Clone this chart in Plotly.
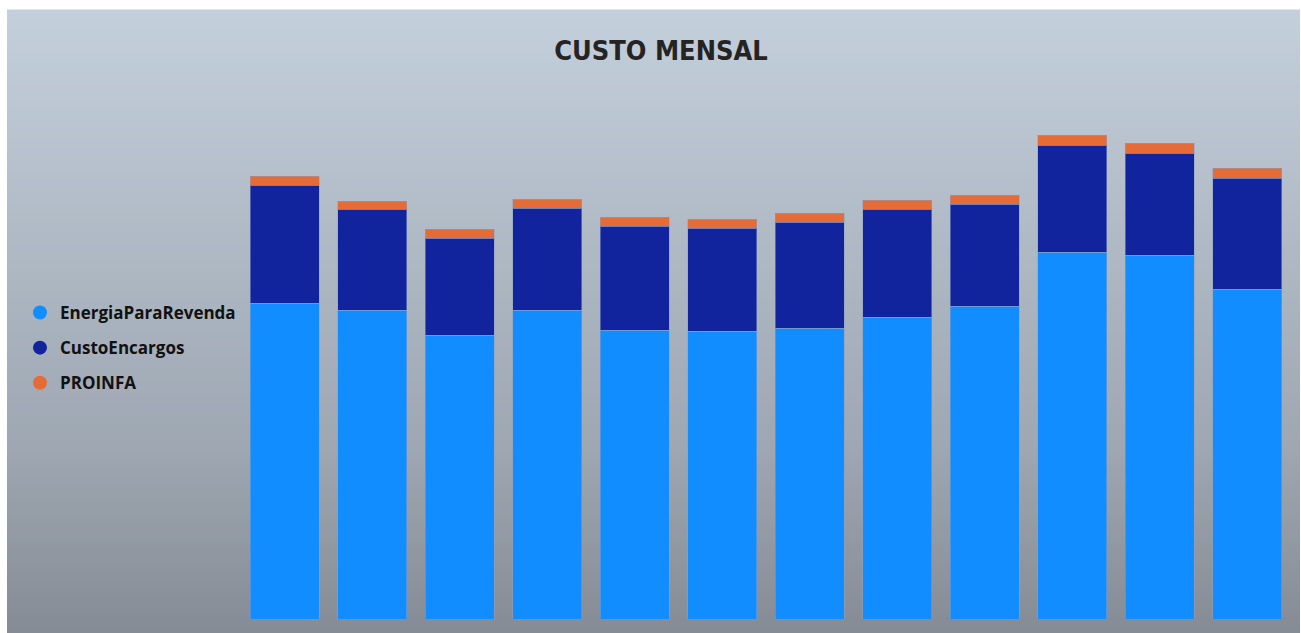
import plotly.graph_objects as go

months = ["Jan", "Fev", "Mar", "Abr", "Mai", "Jun", "Jul", "Ago", "Set", "Out", "Nov", "Dez"]
energia = [316, 309, 284, 309, 289, 288, 291, 302, 313, 367, 364, 330]
encargos = [118, 101, 97, 102, 104, 103, 106, 108, 102, 107, 102, 111]
proinfa = [9, 8, 9, 9, 9, 9, 9, 9, 9, 10, 10, 10]

series = [
    ("EnergiaParaRevenda", energia, "#118DFF"),
    ("CustoEncargos", encargos, "#12239E"),
    ("PROINFA", proinfa, "#E66C37"),
]

W, H = 1301, 633
L, R, T, B = 241, 10, 100, 14
pw, ph = W - L - R, H - T - B

fig = go.Figure()
for name, vals, col in series:
    fig.add_trace(go.Bar(x=months, y=vals, name=name,
                         marker=dict(color=col, line=dict(width=1, color="rgba(140,160,200,0.5)")),
                         showlegend=False))
for name, vals, col in series:
    fig.add_trace(go.Scatter(x=[None], y=[None], mode="markers", name=name, legendgroup=name,
                             marker=dict(symbol="circle", size=14, color=col)))

def lerp(a, b, t):
    return tuple(a[i] + (b[i] - a[i]) * t for i in range(3))

stops = [(10, (196, 208, 220)), (450, (158, 167, 178)), (633, (134, 140, 149))]
shapes = []
n = 120
y_top, y_bot = 10, 633
for k in range(n):
    p0 = y_top + (y_bot - y_top) * k / n
    p1 = y_top + (y_bot - y_top) * (k + 1) / n
    pm = (p0 + p1) / 2
    for j in range(len(stops) - 1):
        if stops[j][0] <= pm <= stops[j + 1][0]:
            t = (pm - stops[j][0]) / (stops[j + 1][0] - stops[j][0])
            c = lerp(stops[j][1], stops[j + 1][1], t)
            break
    shapes.append(dict(type="rect", xref="paper", yref="paper", layer="below",
                       x0=(7 - L) / pw, x1=(1300 - L) / pw,
                       y0=(H - B - p1 - 0.5) / ph, y1=(H - B - p0 + 0.5) / ph,
                       fillcolor="rgb(%d,%d,%d)" % c, line=dict(width=0)))

fig.update_layout(
    width=W, height=H,
    margin=dict(l=L, r=R, t=T, b=B, autoexpand=False),
    barmode="stack", bargap=0.21,
    paper_bgcolor="white", plot_bgcolor="rgba(0,0,0,0)",
    shapes=shapes,
    title=dict(text="<b>CUSTO MENSAL</b>", x=661 / W, xref="container", xanchor="center",
               y=1 - 51 / H, yref="container", yanchor="middle",
               font=dict(family="DejaVu Sans Condensed", size=27, color="#252423")),
    xaxis=dict(visible=False),
    yaxis=dict(visible=False, range=[0, ph]),
    legend=dict(xref="container", yref="container", x=20 / W, y=1 - 295 / H,
                xanchor="left", yanchor="top", bgcolor="rgba(0,0,0,0)",
                traceorder="grouped", tracegroupgap=10, itemwidth=30,
                font=dict(family="Open Sans", size=17, color="#111111", weight="bold")),
    showlegend=True,
)
fig.write_html("out.html", config={"displayModeBar": False},
               post_script="document.body.style.margin='0px';")
